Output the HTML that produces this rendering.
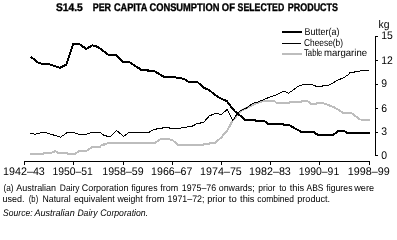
<!DOCTYPE html>
<html><head><meta charset="utf-8"><style>
html,body{margin:0;padding:0;background:#fff;width:397px;height:227px;overflow:hidden}
svg{display:block;will-change:transform}
text{font-family:"Liberation Sans",sans-serif}
</style></head><body>
<svg width="397" height="227" viewBox="0 0 397 227" text-rendering="geometricPrecision">
<rect width="397" height="227" fill="#fff"/>
<text x="55.9" y="11"  font-weight="bold" font-style="normal" font-size="11" textLength="26.9" lengthAdjust="spacingAndGlyphs" stroke="#000" stroke-width="0.35">S14.5</text>
<text x="92.7" y="11"  font-weight="bold" font-style="normal" font-size="11" textLength="18.4" lengthAdjust="spacingAndGlyphs" stroke="#000" stroke-width="0.35">PER</text>
<text x="113.9" y="11"  font-weight="bold" font-style="normal" font-size="11" textLength="33.5" lengthAdjust="spacingAndGlyphs" stroke="#000" stroke-width="0.35">CAPITA</text>
<text x="149.4" y="11"  font-weight="bold" font-style="normal" font-size="11" textLength="70.0" lengthAdjust="spacingAndGlyphs" stroke="#000" stroke-width="0.35">CONSUMPTION</text>
<text x="221.8" y="11"  font-weight="bold" font-style="normal" font-size="11" textLength="13.1" lengthAdjust="spacingAndGlyphs" stroke="#000" stroke-width="0.35">OF</text>
<text x="237.6" y="11"  font-weight="bold" font-style="normal" font-size="11" textLength="46.6" lengthAdjust="spacingAndGlyphs" stroke="#000" stroke-width="0.35">SELECTED</text>
<text x="287.8" y="11"  font-weight="bold" font-style="normal" font-size="11" textLength="50.2" lengthAdjust="spacingAndGlyphs" stroke="#000" stroke-width="0.35">PRODUCTS</text>
<line x1="282" y1="32" x2="302" y2="32" stroke="#000" stroke-width="2"/>
<line x1="282" y1="43.5" x2="301" y2="43.5" stroke="#000" stroke-width="1"/>
<line x1="282" y1="54" x2="302" y2="54" stroke="#bdbdbd" stroke-width="2"/>
<text x="304.6" y="35"  font-size="10" textLength="34.8" lengthAdjust="spacingAndGlyphs">Butter(a)</text>
<text x="304" y="46"  font-size="10" textLength="39" lengthAdjust="spacingAndGlyphs">Cheese(b)</text>
<text x="304.0" y="56"  font-weight="normal" font-style="normal" font-size="10" textLength="18.4" lengthAdjust="spacingAndGlyphs" >Table</text>
<text x="323.9" y="56"  font-weight="normal" font-style="normal" font-size="10" textLength="43.2" lengthAdjust="spacingAndGlyphs" >margarine</text>
<line x1="375.5" y1="36" x2="375.5" y2="156" stroke="#000" stroke-width="1"/>
<line x1="375" y1="36.5" x2="378" y2="36.5" stroke="#000" stroke-width="1"/>
<text x="381.3" y="39"  font-size="11" textLength="11.6" lengthAdjust="spacingAndGlyphs">15</text>
<line x1="375" y1="60.5" x2="378" y2="60.5" stroke="#000" stroke-width="1"/>
<text x="381.3" y="64"  font-size="11" textLength="11.6" lengthAdjust="spacingAndGlyphs">12</text>
<line x1="375" y1="84.5" x2="378" y2="84.5" stroke="#000" stroke-width="1"/>
<text x="381.3" y="87"  font-size="11" textLength="5.8" lengthAdjust="spacingAndGlyphs">9</text>
<line x1="375" y1="108.5" x2="378" y2="108.5" stroke="#000" stroke-width="1"/>
<text x="381.3" y="112"  font-size="11" textLength="5.8" lengthAdjust="spacingAndGlyphs">6</text>
<line x1="375" y1="132.5" x2="378" y2="132.5" stroke="#000" stroke-width="1"/>
<text x="381.3" y="135"  font-size="11" textLength="5.8" lengthAdjust="spacingAndGlyphs">3</text>
<line x1="375" y1="155.5" x2="378" y2="155.5" stroke="#000" stroke-width="1"/>
<text x="381.3" y="159"  font-size="11" textLength="5.8" lengthAdjust="spacingAndGlyphs">0</text>
<text x="378.6" y="28"  font-size="11" textLength="11" lengthAdjust="spacingAndGlyphs">kg</text>
<line x1="24" y1="161.5" x2="370" y2="161.5" stroke="#000" stroke-width="1"/>
<line x1="24.5" y1="161" x2="24.5" y2="165" stroke="#000" stroke-width="1"/>
<line x1="73.5" y1="161" x2="73.5" y2="165" stroke="#000" stroke-width="1"/>
<line x1="123.5" y1="161" x2="123.5" y2="165" stroke="#000" stroke-width="1"/>
<line x1="172.5" y1="161" x2="172.5" y2="165" stroke="#000" stroke-width="1"/>
<line x1="221.5" y1="161" x2="221.5" y2="165" stroke="#000" stroke-width="1"/>
<line x1="270.5" y1="161" x2="270.5" y2="165" stroke="#000" stroke-width="1"/>
<line x1="319.5" y1="161" x2="319.5" y2="165" stroke="#000" stroke-width="1"/>
<line x1="369.5" y1="161" x2="369.5" y2="165" stroke="#000" stroke-width="1"/>
<text x="3.1" y="175"  font-weight="normal" font-style="normal" font-size="11" textLength="41.7" lengthAdjust="spacingAndGlyphs" >1942–43</text>
<text x="52.4" y="175"  font-weight="normal" font-style="normal" font-size="11" textLength="40.5" lengthAdjust="spacingAndGlyphs" >1950–51</text>
<text x="102.3" y="175"  font-weight="normal" font-style="normal" font-size="11" textLength="41.4" lengthAdjust="spacingAndGlyphs" >1958–59</text>
<text x="151.1" y="175"  font-weight="normal" font-style="normal" font-size="11" textLength="41.3" lengthAdjust="spacingAndGlyphs" >1966–67</text>
<text x="200.1" y="175"  font-weight="normal" font-style="normal" font-size="11" textLength="41.7" lengthAdjust="spacingAndGlyphs" >1974–75</text>
<text x="249.1" y="175"  font-weight="normal" font-style="normal" font-size="11" textLength="41.7" lengthAdjust="spacingAndGlyphs" >1982–83</text>
<text x="298.7" y="175"  font-weight="normal" font-style="normal" font-size="11" textLength="40.5" lengthAdjust="spacingAndGlyphs" >1990–91</text>
<text x="347.8" y="175"  font-weight="normal" font-style="normal" font-size="11" textLength="42.0" lengthAdjust="spacingAndGlyphs" >1998–99</text>
<polyline points="30.0,154.0 43.0,154.0 44.0,152.8 52.0,152.5 55.2,151.2 58.2,152.8 67.3,152.8 68.0,154.0 75.0,154.0 79.4,151.0 79.6,151.0 86.1,151.0 92.2,147.0 100.2,147.0 100.7,145.5 103.8,145.0 104.3,144.0 110.2,143.0 154.5,143.0 160.7,139.1 165.6,138.7 172.6,140.1 177.5,144.7 183.5,145.0 203.0,145.0 203.5,144.0 209.0,144.0 209.5,143.0 215.0,143.0 221.6,137.2 227.3,130.2 232.4,121.2 238.6,113.5 241.7,110.4 249.4,106.6 259.4,102.0 264.9,101.0 274.5,101.0 276.5,103.0 289.0,103.0 290.5,102.0 301.0,102.0 302.0,101.0 307.5,101.0 311.0,104.0 316.0,104.0 317.0,103.0 323.0,103.0 334.7,107.6 342.8,112.6 350.8,112.6 359.9,119.5 369.8,119.7" fill="none" stroke="#bdbdbd" stroke-width="2" stroke-linejoin="round" shape-rendering="crispEdges"/>
<polyline points="29.9,133.2 34.9,134.2 43.8,132.2 49.7,133.8 60.6,137.2 67.5,132.4 73.5,132.4 79.0,134.2 86.9,134.2 91.8,132.4 100.5,132.5 104.0,135.5 106.0,135.5 107.0,136.5 110.6,136.5 116.6,130.5 123.7,136.5 128.7,132.5 148.8,132.4 153.5,129.5 156.5,129.5 157.0,128.5 162.6,128.5 163.0,127.5 169.6,127.5 170.0,128.5 180.7,128.5 181.2,127.5 186.8,127.5 187.3,126.5 191.7,126.5 195.4,124.5 197.0,123.5 200.2,123.5 200.7,122.5 203.9,122.5 206.0,119.5 209.7,115.5 213.4,114.5 214.5,113.5 218.7,113.5 219.7,114.5 221.3,114.5 227.2,109.5 232.8,120.6 237.8,112.7 240.9,110.4 246.3,108.1 252.5,103.5 257.9,102.0 264.9,99.2 270.8,96.6 276.7,94.7 283.7,91.1 288.6,93.3 297.5,86.7 303.5,84.5 312.0,84.5 314.0,85.5 317.0,86.5 322.5,86.5 323.0,85.5 327.5,85.5 330.5,84.5 336.8,80.5 344.2,77.5 348.5,74.5 350.0,72.5 354.0,72.5 354.5,71.5 359.7,71.5 360.2,70.5 369.0,70.5" fill="none" stroke="#000" stroke-width="1" stroke-linejoin="round" shape-rendering="crispEdges"/>
<polyline points="30.5,56.7 38.5,62.8 42.4,63.9 48.5,63.9 60.1,67.8 66.3,64.7 73.3,44.0 79.3,44.0 86.2,48.9 92.4,45.3 97.8,46.9 108.7,54.9 116.3,54.9 123.0,62.0 129.3,62.0 141.2,69.8 147.7,70.0 148.2,71.0 154.0,71.0 163.6,76.6 172.6,76.8 184.2,79.0 188.5,81.7 197.0,81.7 203.9,87.8 208.5,89.7 215.4,95.0 220.0,98.1 227.0,101.2 230.9,106.6 234.7,111.2 238.6,114.3 245.3,120.0 255.0,120.0 255.5,121.0 264.5,121.0 268.0,124.0 283.0,124.0 283.5,125.0 289.0,125.0 301.5,132.0 313.5,132.0 318.0,135.0 333.0,135.0 338.5,131.0 344.5,131.0 345.5,132.0 347.5,133.0 369.8,133.0" fill="none" stroke="#000" stroke-width="2" stroke-linejoin="round" shape-rendering="crispEdges"/>
<text x="3.4" y="190.7"  font-weight="normal" font-style="normal" font-size="9.5" textLength="10.1" lengthAdjust="spacingAndGlyphs" >(a)</text>
<text x="16.2" y="190.7"  font-weight="normal" font-style="normal" font-size="9.5" textLength="39.9" lengthAdjust="spacingAndGlyphs" >Australian</text>
<text x="59.8" y="190.7"  font-weight="normal" font-style="normal" font-size="9.5" textLength="19.7" lengthAdjust="spacingAndGlyphs" >Dairy</text>
<text x="81.7" y="190.7"  font-weight="normal" font-style="normal" font-size="9.5" textLength="46.8" lengthAdjust="spacingAndGlyphs" >Corporation</text>
<text x="131.3" y="190.7"  font-weight="normal" font-style="normal" font-size="9.5" textLength="26.2" lengthAdjust="spacingAndGlyphs" >figures</text>
<text x="160.2" y="190.7"  font-weight="normal" font-style="normal" font-size="9.5" textLength="17.9" lengthAdjust="spacingAndGlyphs" >from</text>
<text x="181.8" y="190.7"  font-weight="normal" font-style="normal" font-size="9.5" textLength="34.3" lengthAdjust="spacingAndGlyphs" >1975–76</text>
<text x="218.8" y="190.7"  font-weight="normal" font-style="normal" font-size="9.5" textLength="35.8" lengthAdjust="spacingAndGlyphs" >onwards;</text>
<text x="258.3" y="190.7"  font-weight="normal" font-style="normal" font-size="9.5" textLength="17.1" lengthAdjust="spacingAndGlyphs" >prior</text>
<text x="279.2" y="190.7"  font-weight="normal" font-style="normal" font-size="9.5" textLength="7.3" lengthAdjust="spacingAndGlyphs" >to</text>
<text x="289.8" y="190.7"  font-weight="normal" font-style="normal" font-size="9.5" textLength="14.4" lengthAdjust="spacingAndGlyphs" >this</text>
<text x="306.6" y="190.7"  font-weight="normal" font-style="normal" font-size="9.5" textLength="16.9" lengthAdjust="spacingAndGlyphs" >ABS</text>
<text x="326.3" y="190.7"  font-weight="normal" font-style="normal" font-size="9.5" textLength="26.2" lengthAdjust="spacingAndGlyphs" >figures</text>
<text x="354.2" y="190.7"  font-weight="normal" font-style="normal" font-size="9.5" textLength="19.9" lengthAdjust="spacingAndGlyphs" >were</text>
<text x="2.6" y="202"  font-weight="normal" font-style="normal" font-size="9.5" textLength="22.0" lengthAdjust="spacingAndGlyphs" >used.</text>
<text x="28.8" y="202"  font-weight="normal" font-style="normal" font-size="9.5" textLength="9.4" lengthAdjust="spacingAndGlyphs" >(b)</text>
<text x="42.6" y="202"  font-weight="normal" font-style="normal" font-size="9.5" textLength="28.0" lengthAdjust="spacingAndGlyphs" >Natural</text>
<text x="73.9" y="202"  font-weight="normal" font-style="normal" font-size="9.5" textLength="40.8" lengthAdjust="spacingAndGlyphs" >equivalent</text>
<text x="117.4" y="202"  font-weight="normal" font-style="normal" font-size="9.5" textLength="25.2" lengthAdjust="spacingAndGlyphs" >weight</text>
<text x="145.8" y="202"  font-weight="normal" font-style="normal" font-size="9.5" textLength="18.6" lengthAdjust="spacingAndGlyphs" >from</text>
<text x="167.6" y="202"  font-weight="normal" font-style="normal" font-size="9.5" textLength="36.8" lengthAdjust="spacingAndGlyphs" >1971–72;</text>
<text x="207.2" y="202"  font-weight="normal" font-style="normal" font-size="9.5" textLength="18.4" lengthAdjust="spacingAndGlyphs" >prior</text>
<text x="228.8" y="202"  font-weight="normal" font-style="normal" font-size="9.5" textLength="7.9" lengthAdjust="spacingAndGlyphs" >to</text>
<text x="240.1" y="202"  font-weight="normal" font-style="normal" font-size="9.5" textLength="14.4" lengthAdjust="spacingAndGlyphs" >this</text>
<text x="257.3" y="202"  font-weight="normal" font-style="normal" font-size="9.5" textLength="36.7" lengthAdjust="spacingAndGlyphs" >combined</text>
<text x="297.3" y="202"  font-weight="normal" font-style="normal" font-size="9.5" textLength="32.8" lengthAdjust="spacingAndGlyphs" >product.</text>
<text x="3.1" y="215.5"  font-weight="normal" font-style="italic" font-size="9.5" textLength="29.5" lengthAdjust="spacingAndGlyphs" >Source:</text>
<text x="34.4" y="215.5"  font-weight="normal" font-style="italic" font-size="9.5" textLength="40.3" lengthAdjust="spacingAndGlyphs" >Australian</text>
<text x="77.4" y="215.5"  font-weight="normal" font-style="italic" font-size="9.5" textLength="20.1" lengthAdjust="spacingAndGlyphs" >Dairy</text>
<text x="100.3" y="215.5"  font-weight="normal" font-style="italic" font-size="9.5" textLength="47.8" lengthAdjust="spacingAndGlyphs" >Corporation.</text>
</svg>
</body></html>
